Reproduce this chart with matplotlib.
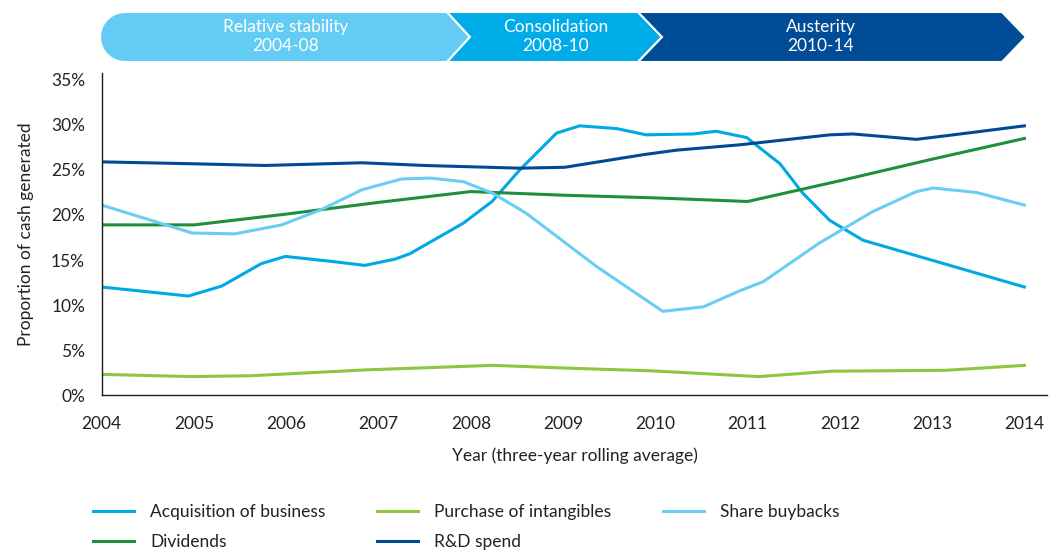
import matplotlib
matplotlib.use("Agg")
import matplotlib.pyplot as plt
from matplotlib.patches import Polygon
import numpy as np

plt.rcParams["font.family"] = ["Lato", "DejaVu Sans"]

TEXT = "#222222"
FS = 12.5

# ---- data (x in fractional years) ---------------------------------------
acq_x = [2004, 2004.94, 2005.30, 2005.73, 2005.99, 2006.53, 2006.85, 2007.18,
         2007.34, 2007.92, 2008.23, 2008.53, 2008.93, 2009.18, 2009.58, 2009.90,
         2010.41, 2010.66, 2010.99, 2011.35, 2011.60, 2011.89, 2012.25, 2014]
acq_y = [12.0, 11.0, 12.1, 14.6, 15.4, 14.8, 14.4, 15.1,
         15.7, 19.1, 21.5, 25.0, 29.1, 29.9, 29.6, 28.9,
         29.0, 29.3, 28.6, 25.7, 22.4, 19.4, 17.2, 12.0]

intang_x = [2004, 2004.97, 2005.62, 2006.87, 2008.24, 2009.16, 2009.94,
            2011.12, 2011.91, 2013.15, 2014]
intang_y = [2.3, 2.05, 2.15, 2.8, 3.3, 2.95, 2.7, 2.05, 2.65, 2.75, 3.3]

buy_x = [2004, 2004.98, 2005.44, 2005.95, 2006.38, 2006.82, 2007.25, 2007.56,
         2007.92, 2008.24, 2008.60, 2009.36, 2010.08, 2010.52, 2010.92, 2011.17,
         2011.78, 2012.36, 2012.83, 2013.01, 2013.48, 2014]
buy_y = [21.1, 18.0, 17.9, 18.9, 20.6, 22.8, 24.0, 24.1,
         23.7, 22.4, 20.2, 14.3, 9.3, 9.8, 11.6, 12.6,
         16.9, 20.4, 22.6, 23.0, 22.5, 21.1]

years = list(range(2004, 2015))
div_y = [18.9, 18.9, 20.1, 21.4, 22.6, 22.2, 21.9, 21.5, 23.8, 26.2, 28.5]

rd_x = [2004, 2004.94, 2005.77, 2006.82, 2007.5, 2008.53, 2009.02, 2009.87,
        2010.23, 2010.92, 2011.89, 2012.14, 2012.83, 2013.15, 2014]
rd_y = [25.9, 25.7, 25.5, 25.8, 25.5, 25.2, 25.3, 26.7,
        27.2, 27.8, 28.9, 29.0, 28.4, 28.8, 29.9]

yticks = [0, 5, 10, 15, 20, 25, 30, 35]

phases = [("Relative stability", "2004-08"),
          ("Consolidation", "2008-10"),
          ("Austerity", "2010-14")]

# ---- colours ------------------------------------------------------------
C_ACQ = "#00A9E4"
C_INT = "#8DC63F"
C_BUY = "#6ACDF4"
C_DIV = "#1F8E3D"
C_RD = "#004A93"
PHASE_COLS = ["#64CCF4", "#00ACE8", "#004C97"]

fig = plt.figure(figsize=(10.52, 5.51), dpi=100)
ax = fig.add_axes([0.0967, 0.283, 0.899, 0.585])

lw = 2.2
ax.plot(acq_x, acq_y, color=C_ACQ, lw=lw, solid_joinstyle="round",
        label="Acquisition of business")
ax.plot(years, div_y, color=C_DIV, lw=lw, solid_joinstyle="round",
        label="Dividends")
ax.plot(intang_x, intang_y, color=C_INT, lw=lw, solid_joinstyle="round",
        label="Purchase of intangibles")
ax.plot(rd_x, rd_y, color=C_RD, lw=lw, solid_joinstyle="round",
        label="R&D spend")
ax.plot(buy_x, buy_y, color=C_BUY, lw=lw, solid_joinstyle="round",
        label="Share buybacks")

ax.set_xlim(2004, 2014.25)
ax.set_ylim(0, 35.8)
ax.set_xticks(years)
ax.set_yticks(yticks)
ax.set_yticklabels([f"{v}%" for v in yticks])
ax.tick_params(length=0, labelsize=FS, colors=TEXT)
ax.tick_params(axis="y", pad=12)
ax.tick_params(axis="x", pad=15)
for s in ("top", "right"):
    ax.spines[s].set_visible(False)
for s in ("left", "bottom"):
    ax.spines[s].set_color("#1a1a1a")
    ax.spines[s].set_linewidth(1.0)

ax.set_ylabel("Proportion of cash generated", fontsize=FS, color=TEXT,
              labelpad=12)
ax.set_xlabel("Year (three-year rolling average)", fontsize=FS, color=TEXT,
              labelpad=11)

leg = fig.legend(loc="upper left", bbox_to_anchor=(0.088, 0.086), ncol=3,
                 frameon=False, fontsize=FS, handlelength=2.4,
                 handletextpad=0.92, columnspacing=2.95, labelspacing=0.84,
                 borderpad=0, borderaxespad=0)
for t in leg.get_texts():
    t.set_color(TEXT)

# ---- phase banner (pixel coordinates) ------------------------------------
bx = fig.add_axes([0, 0, 1, 1])
bx.set_xlim(0, 1052)
bx.set_ylim(551, 0)
bx.axis("off")

top, bot, mid = 12, 62, 37
r = 25
seg1 = [(447, top), (470, mid), (447, bot)]
seg1 += [(100 + r + r * np.cos(a), mid + r * np.sin(a))
         for a in np.linspace(np.pi / 2, 1.5 * np.pi, 40)]
seg2 = [(447, top), (638, top), (662, mid), (638, bot), (447, bot), (470, mid)]
seg3 = [(638, top), (1002, top), (1026, mid), (1002, bot), (638, bot), (662, mid)]

centers = [286, 556, 821]
for pts, col, (l1, l2), cx in zip([seg1, seg2, seg3], PHASE_COLS, phases, centers):
    bx.add_patch(Polygon(pts, closed=True, facecolor=col, edgecolor="white",
                         linewidth=1.5))
    bx.text(cx, 27, l1, ha="center", va="center", color="white", fontsize=FS)
    bx.text(cx, 46, l2, ha="center", va="center", color="white", fontsize=FS)

fig.savefig("out.png", dpi=100)
